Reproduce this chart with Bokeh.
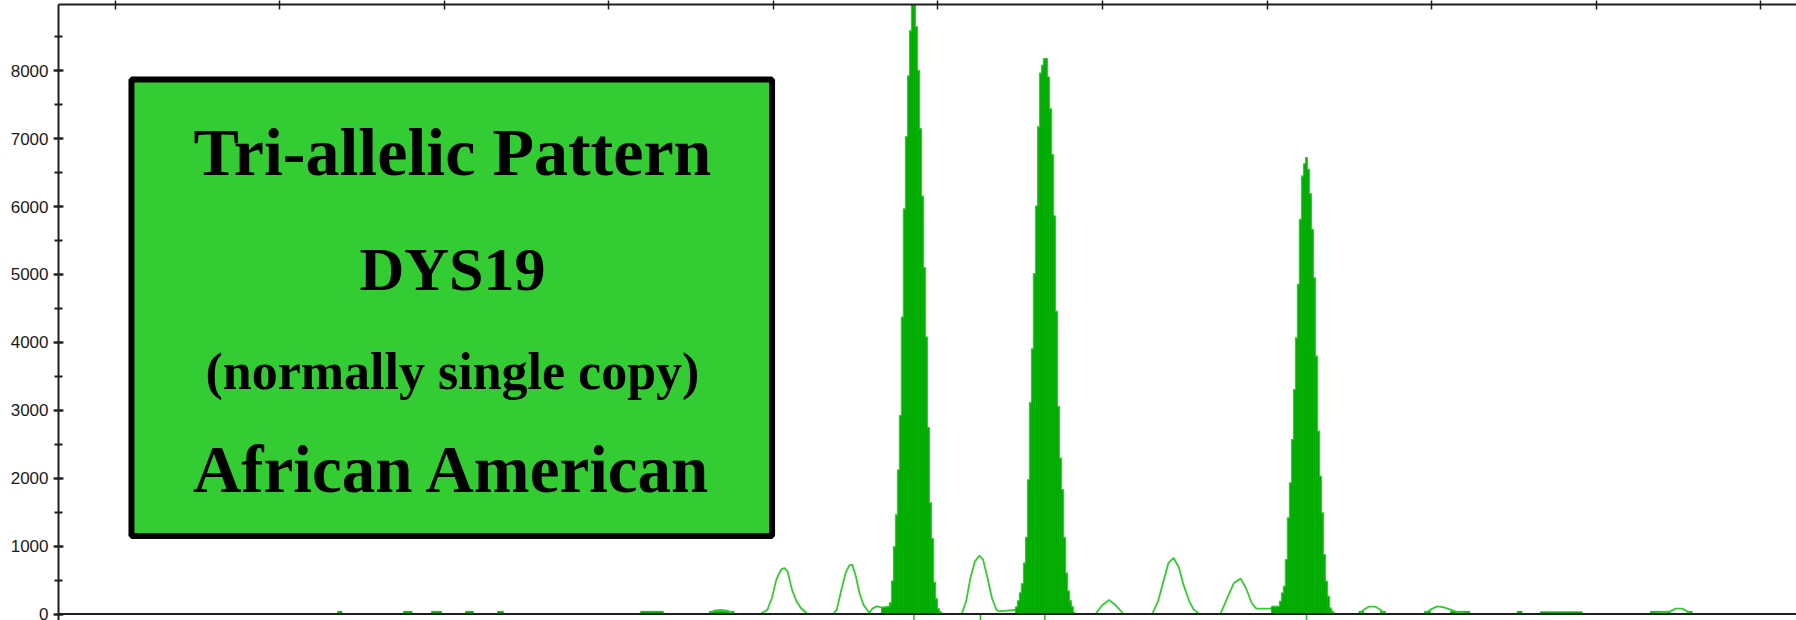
from bokeh.plotting import figure
from bokeh.models import (Range1d, LinearAxis, FixedTicker, SingleIntervalTicker,
                          Span, BoxAnnotation, Label)
from bokeh.embed import file_html
from bokeh.resources import INLINE

# ---------------- data (size in bp, height in RFU) ----------------
top_ticks = [100, 110, 120, 130, 140, 150, 160, 170, 180, 190, 200]

# called (filled) peaks: sample positions and heights
peak1_x = [146.63, 146.75, 146.87, 146.99, 147.11, 147.24, 147.36, 147.48, 147.60, 147.72,
           147.84, 147.96, 148.09, 148.21, 148.33, 148.45, 148.57, 148.69, 148.82, 148.94,
           149.06, 149.18, 149.30, 149.42, 149.54, 149.67, 149.79, 149.91, 150.03, 150.15, 150.27]
peak1_y = [100, 100, 105, 110, 164, 485, 993, 1461, 2121, 2922,
           4371, 5966, 7029, 7923, 8589, 8975, 8975, 8648, 8005, 7146,
           6153, 5101, 4078, 2746, 1636, 1110, 467, 222, 76, 30, 10]

peak2_x = [154.77, 154.89, 155.01, 155.13, 155.26, 155.38, 155.50, 155.62, 155.74, 155.86,
           155.99, 156.11, 156.23, 156.35, 156.47, 156.59, 156.71, 156.84, 156.96, 157.08,
           157.20, 157.32, 157.44, 157.57, 157.69, 157.81, 157.93, 158.05, 158.17, 158.29]
peak2_y = [105, 193, 310, 444, 748, 1128, 1975, 3114, 3903, 5013,
           6007, 7175, 7964, 8081, 8180, 8180, 7906, 7438, 6766, 5861,
           4458, 3056, 2296, 1829, 1128, 602, 339, 193, 105, 18]

peak3_x = [170.32, 170.44, 170.57, 170.69, 170.81, 170.93, 171.05, 171.17, 171.29, 171.42,
           171.54, 171.66, 171.78, 171.90, 172.02, 172.15, 172.27, 172.39, 172.51, 172.63,
           172.75, 172.87, 173.00, 173.12, 173.24, 173.36, 173.48, 173.60, 173.73, 173.85,
           173.97, 174.09]
peak3_y = [113, 113, 113, 113, 187, 309, 408, 801, 1415, 1930,
           2569, 3306, 4067, 4853, 5811, 6449, 6631, 6720, 6548, 6189,
           5664, 4951, 3797, 2692, 2029, 1488, 874, 481, 260, 88,
           39, 15]
sample_step = 0.1215

# uncalled (outline) peaks
bump_xs = [
    [136.12, 136.39, 136.79, 137.20, 137.61],
    [139.23, 139.64, 139.91, 140.18, 140.46, 140.67, 140.86, 141.13, 141.40, 141.67, 142.07],
    [143.63, 143.85, 144.11, 144.39, 144.61, 144.79, 145.01, 145.23, 145.47, 145.83, 146.01, 146.28, 146.56],
    [151.44, 151.71, 151.97, 152.25, 152.52, 152.74, 153.01, 153.28, 153.55, 153.69, 154.69],
    [159.57, 159.98, 160.39, 160.80, 161.28],
    [163.02, 163.37, 163.70, 164.00, 164.32, 164.65, 164.91, 165.27, 165.54, 165.87],
    [167.16, 167.58, 167.98, 168.39, 168.71, 169.06, 169.34, 170.29],
    [175.57, 175.87, 176.17, 176.58, 176.88, 177.19],
    [179.56, 179.92, 180.33, 180.73, 181.14, 181.54, 182.31],
    [193.29, 194.50, 194.81, 195.21, 195.82],
]
bump_ys = [
    [0, 49, 59, 49, 0],
    [0, 64, 236, 506, 653, 678, 629, 359, 187, 88, 0],
    [0, 64, 334, 604, 717, 727, 555, 309, 138, 15, 79, 113, 98],
    [0, 187, 530, 776, 860, 801, 530, 236, 64, 39, 59],
    [0, 128, 206, 128, 0],
    [0, 187, 481, 752, 825, 678, 432, 187, 64, 0],
    [0, 236, 457, 521, 383, 162, 79, 79],
    [0, 64, 108, 108, 64, 0],
    [0, 64, 113, 98, 64, 29, 0],
    [0, 39, 79, 79, 0],
]

# small filled baseline fragments
noise_left = [113.52, 117.53, 119.22, 121.29, 123.24, 131.93, 136.12, 175.57, 176.88,
              179.56, 181.14, 185.19, 186.60, 193.29, 195.52]
noise_right = [113.79, 118.05, 119.84, 121.78, 123.60, 133.32, 137.61, 175.87, 177.19,
               179.92, 182.31, 185.49, 189.14, 194.50, 195.82]
noise_top = [40, 40, 40, 40, 40, 40, 40, 40, 40, 40, 40, 40, 35, 40, 40]

# allele call markers
allele_calls = [148.54, 152.58, 156.49, 172.39]

box_lines = ["Tri-allelic Pattern", "DYS19", "(normally single copy)", "African American"]

# ---------------- figure ----------------
Y0, Y1 = -95.7, 8976
p = figure(width=1796, height=620, output_backend="svg", toolbar_location=None,
           x_range=Range1d(96.567, 202.16), y_range=Range1d(Y0, Y1),
           x_axis_location=None, y_axis_location="left",
           min_border_left=58, min_border_right=0, min_border_top=0, min_border_bottom=0)
p.outline_line_color = None
p.xgrid.visible = False
p.ygrid.visible = False
p.background_fill_color = "white"
p.border_fill_color = "white"

ax_col = "#1e1e1e"
ya = p.yaxis[0]
ya.ticker = SingleIntervalTicker(interval=1000, num_minor_ticks=2)
ya.axis_line_color = ax_col
ya.axis_line_width = 2
ya.major_tick_line_color = ax_col
ya.major_tick_line_width = 2
ya.major_tick_in = 5
ya.major_tick_out = 5
ya.minor_tick_line_color = ax_col
ya.minor_tick_line_width = 2
ya.minor_tick_in = 4
ya.minor_tick_out = 4
ya.major_label_text_font = "Liberation Sans"
ya.major_label_text_font_size = "17px"
ya.major_label_text_color = "#1a1a1a"
ya.major_label_standoff = 5

top_ax = LinearAxis(ticker=FixedTicker(ticks=top_ticks, minor_ticks=[]),
                    major_label_text_font_size="0px", major_label_standoff=0,
                    major_label_overrides={t: "" for t in top_ticks},
                    major_tick_in=5, major_tick_out=4,
                    axis_line_color=ax_col, axis_line_width=2,
                    major_tick_line_color=ax_col, major_tick_line_width=1.5,
                    minor_tick_line_color=None)
p.add_layout(top_ax, "above")

fill_green = "#00AA00"
line_green = "#33CC33"

# baseline noise fragments
p.quad(left=noise_left, right=noise_right, bottom=0, top=noise_top,
       fill_color=fill_green, line_color=fill_green, line_width=0.5)

# uncalled peaks (outline)
p.multi_line(xs=bump_xs, ys=bump_ys, line_color=line_green, line_width=1.8)

# called peaks (filled)
for xs, ys in [(peak1_x, peak1_y), (peak2_x, peak2_y), (peak3_x, peak3_y)]:
    p.vbar(x=xs, top=ys, bottom=0, width=sample_step,
           fill_color=fill_green, line_color=fill_green, line_width=0.6)
    p.step(x=xs, y=ys, mode="center", line_color=line_green, line_width=1.2)

# baseline
p.add_layout(Span(location=0, dimension="width", line_color=ax_col, line_width=2))

# allele call markers below the baseline
p.segment(x0=allele_calls, y0=[0] * len(allele_calls), x1=allele_calls,
          y1=[Y0] * len(allele_calls), line_color="#22BB22", line_width=1.5)

# annotation box
p.add_layout(BoxAnnotation(left=101.0, right=139.92, bottom=1150, top=7870,
                           fill_color="#33CC33", fill_alpha=1.0,
                           line_color="black", line_width=6, line_alpha=1.0))

label_specs = [(6804, "68px"), (5076, "62px"), (3567, "52px"), (2131, "67px")]
for txt, (yy, fs) in zip(box_lines, label_specs):
    p.add_layout(Label(x=120.50, y=yy, text=txt, text_align="center",
                       text_baseline="alphabetic", text_font="Liberation Serif",
                       text_font_style="bold", text_font_size=fs, text_color="black"))

open("out.html", "w").write(file_html(p, INLINE))
